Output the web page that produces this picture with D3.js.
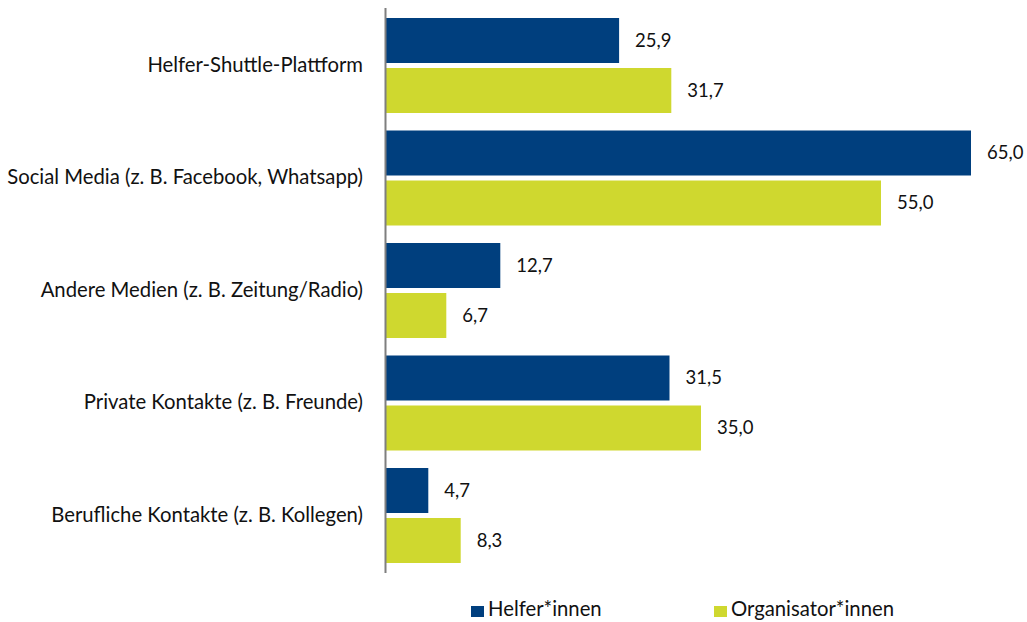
<!DOCTYPE html>
<html>
<head>
<meta charset="utf-8">
<script src="https://cdn.jsdelivr.net/npm/d3@7"></script>
<style>
  body { margin: 0; background: #ffffff; }
  text { font-family: Lato, "Open Sans", sans-serif; fill: #111111; }
</style>
</head>
<body>
<script>
// data
var categories = [
  "Helfer-Shuttle-Plattform",
  "Social Media (z. B. Facebook, Whatsapp)",
  "Andere Medien (z. B. Zeitung/Radio)",
  "Private Kontakte (z. B. Freunde)",
  "Berufliche Kontakte (z. B. Kollegen)"
];
var seriesNames = ["Helfer*innen", "Organisator*innen"];
var helferValues = [25.9, 65.0, 12.7, 31.5, 4.7];
var organisatorValues = [31.7, 55.0, 6.7, 35.0, 8.3];

var seriesColors = ["#003f7e", "#cfd82f"];

var width = 1027;
var height = 622;
var axisX = 385.5;
var labelSize = 20.3;
var valueSize = 18.5;

var svg = d3.select("body")
    .append("svg")
    .attr("width", width)
    .attr("height", height);

var rows = categories.map(function(c, i) {
  return { cat: c, vals: [helferValues[i], organisatorValues[i]] };
});

var x = d3.scaleLinear()
    .domain([0, 65])
    .range([axisX + 0.5, 971]);

var y0 = d3.scaleBand()
    .domain(categories)
    .range([0.5, 580.5])
    .paddingInner(17.5 / 112.5)
    .paddingOuter(17.5 / 112.5);

var y1 = d3.scaleBand()
    .domain(seriesNames)
    .range([0, y0.bandwidth()])
    .paddingInner(0.1);

var fmt = function(v) { return d3.format(".1f")(v).replace(".", ","); };

var groups = svg.selectAll("g.group")
    .data(rows)
    .enter()
    .append("g")
    .attr("class", "group")
    .attr("transform", function(d) { return "translate(0," + y0(d.cat) + ")"; });

groups.selectAll("rect")
    .data(function(d) { return d.vals.map(function(v, j) { return { s: seriesNames[j], v: v, j: j }; }); })
    .enter()
    .append("rect")
    .attr("x", x(0))
    .attr("y", function(d) { return y1(d.s); })
    .attr("width", function(d) { return x(d.v) - x(0); })
    .attr("height", y1.bandwidth())
    .attr("fill", function(d) { return seriesColors[d.j]; });

groups.selectAll("text.val")
    .data(function(d) { return d.vals.map(function(v, j) { return { s: seriesNames[j], v: v }; }); })
    .enter()
    .append("text")
    .attr("class", "val")
    .attr("x", function(d) { return x(d.v) + 16; })
    .attr("y", function(d) { return y1(d.s) + y1.bandwidth() / 2; })
    .attr("dy", "0.35em")
    .attr("font-size", valueSize)
    .text(function(d) { return fmt(d.v); });

// category labels
groups.append("text")
    .attr("x", 363)
    .attr("y", y0.bandwidth() / 2)
    .attr("dy", "0.3em")
    .attr("text-anchor", "end")
    .attr("font-size", labelSize)
    .text(function(d) { return d.cat; });

// axis line
svg.append("line")
    .attr("x1", axisX).attr("x2", axisX)
    .attr("y1", 8).attr("y2", 573)
    .attr("stroke", "#7f7f7f")
    .attr("stroke-width", 2);

// legend
var legendX = [471, 714];
var legend = svg.selectAll("g.legend")
    .data(seriesNames)
    .enter()
    .append("g")
    .attr("class", "legend")
    .attr("transform", function(d, i) { return "translate(" + legendX[i] + ",606)"; });

legend.append("rect")
    .attr("width", 13)
    .attr("height", 11)
    .attr("fill", function(d, i) { return seriesColors[i]; });

legend.append("text")
    .attr("x", 17)
    .attr("y", 10)
    .attr("font-size", labelSize)
    .text(function(d) { return d; });
</script>
</body>
</html>
